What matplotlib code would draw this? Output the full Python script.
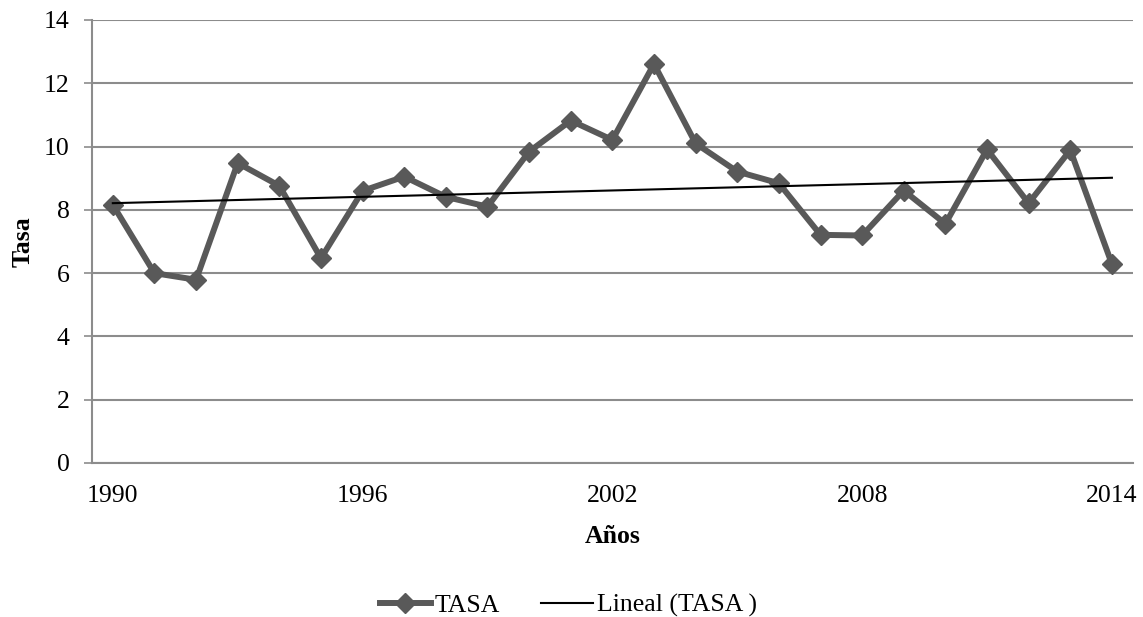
import numpy as np
import matplotlib
matplotlib.use("Agg")
import matplotlib.pyplot as plt

years = list(range(1990, 2015))
tasa = [8.16, 6.00, 5.79, 9.48, 8.76, 6.47, 8.60, 9.05, 8.41, 8.10,
        9.84, 10.82, 10.21, 12.61, 10.10, 9.21, 8.84, 7.21, 7.19, 8.61,
        7.56, 9.91, 8.21, 9.89, 6.29]
tick_years = [1990, 1996, 2002, 2008, 2014]
y_ticks = [0, 2, 4, 6, 8, 10, 12, 14]

plt.rcParams["font.family"] = ["Liberation Serif", "DejaVu Serif"]
FS = 18.5

fig = plt.figure(figsize=(11.43, 6.17), dpi=100)
ax = fig.add_axes([0.0805, 0.2496, 0.9105, 0.718])

x = np.array(years, dtype=float)
y = np.array(tasa)
slope, intercept = np.polyfit(x, y, 1)

ax.plot(x, y, color="#595959", lw=4.3, marker="D", markersize=10.5,
        markeredgecolor="#595959", markerfacecolor="#595959", label="TASA",
        zorder=3, solid_joinstyle="round")
ax.plot(x, slope * x + intercept, color="black", lw=1.5,
        label="Lineal (TASA )", zorder=4)

ax.set_xlim(1989.5, 2014.5)
ax.set_ylim(0, 14)
ax.set_yticks(y_ticks)
ax.set_xticks(tick_years)
ax.tick_params(axis="y", length=5.5, width=1.2, color="#8c8c8c",
               labelsize=FS, pad=10.5)
ax.tick_params(axis="x", length=0, labelsize=FS, pad=15.5)
ax.yaxis.grid(True, color="#8c8c8c", lw=1.5)
ax.set_axisbelow(True)
for side in ("top", "right"):
    ax.spines[side].set_visible(False)
for side in ("left", "bottom"):
    ax.spines[side].set_color("#8c8c8c")
    ax.spines[side].set_linewidth(1.5)

ax.set_ylabel("Tasa", fontsize=FS, fontweight="bold", labelpad=7)
ax.set_xlabel("Años", fontsize=FS, fontweight="bold", labelpad=13)

leg = fig.legend(loc="center", bbox_to_anchor=(0.497, 0.019), ncol=2,
                 frameon=False, fontsize=FS, handlelength=2.0,
                 handletextpad=0.15, columnspacing=1.6, borderpad=0)

fig.savefig("out.png", dpi=100)
